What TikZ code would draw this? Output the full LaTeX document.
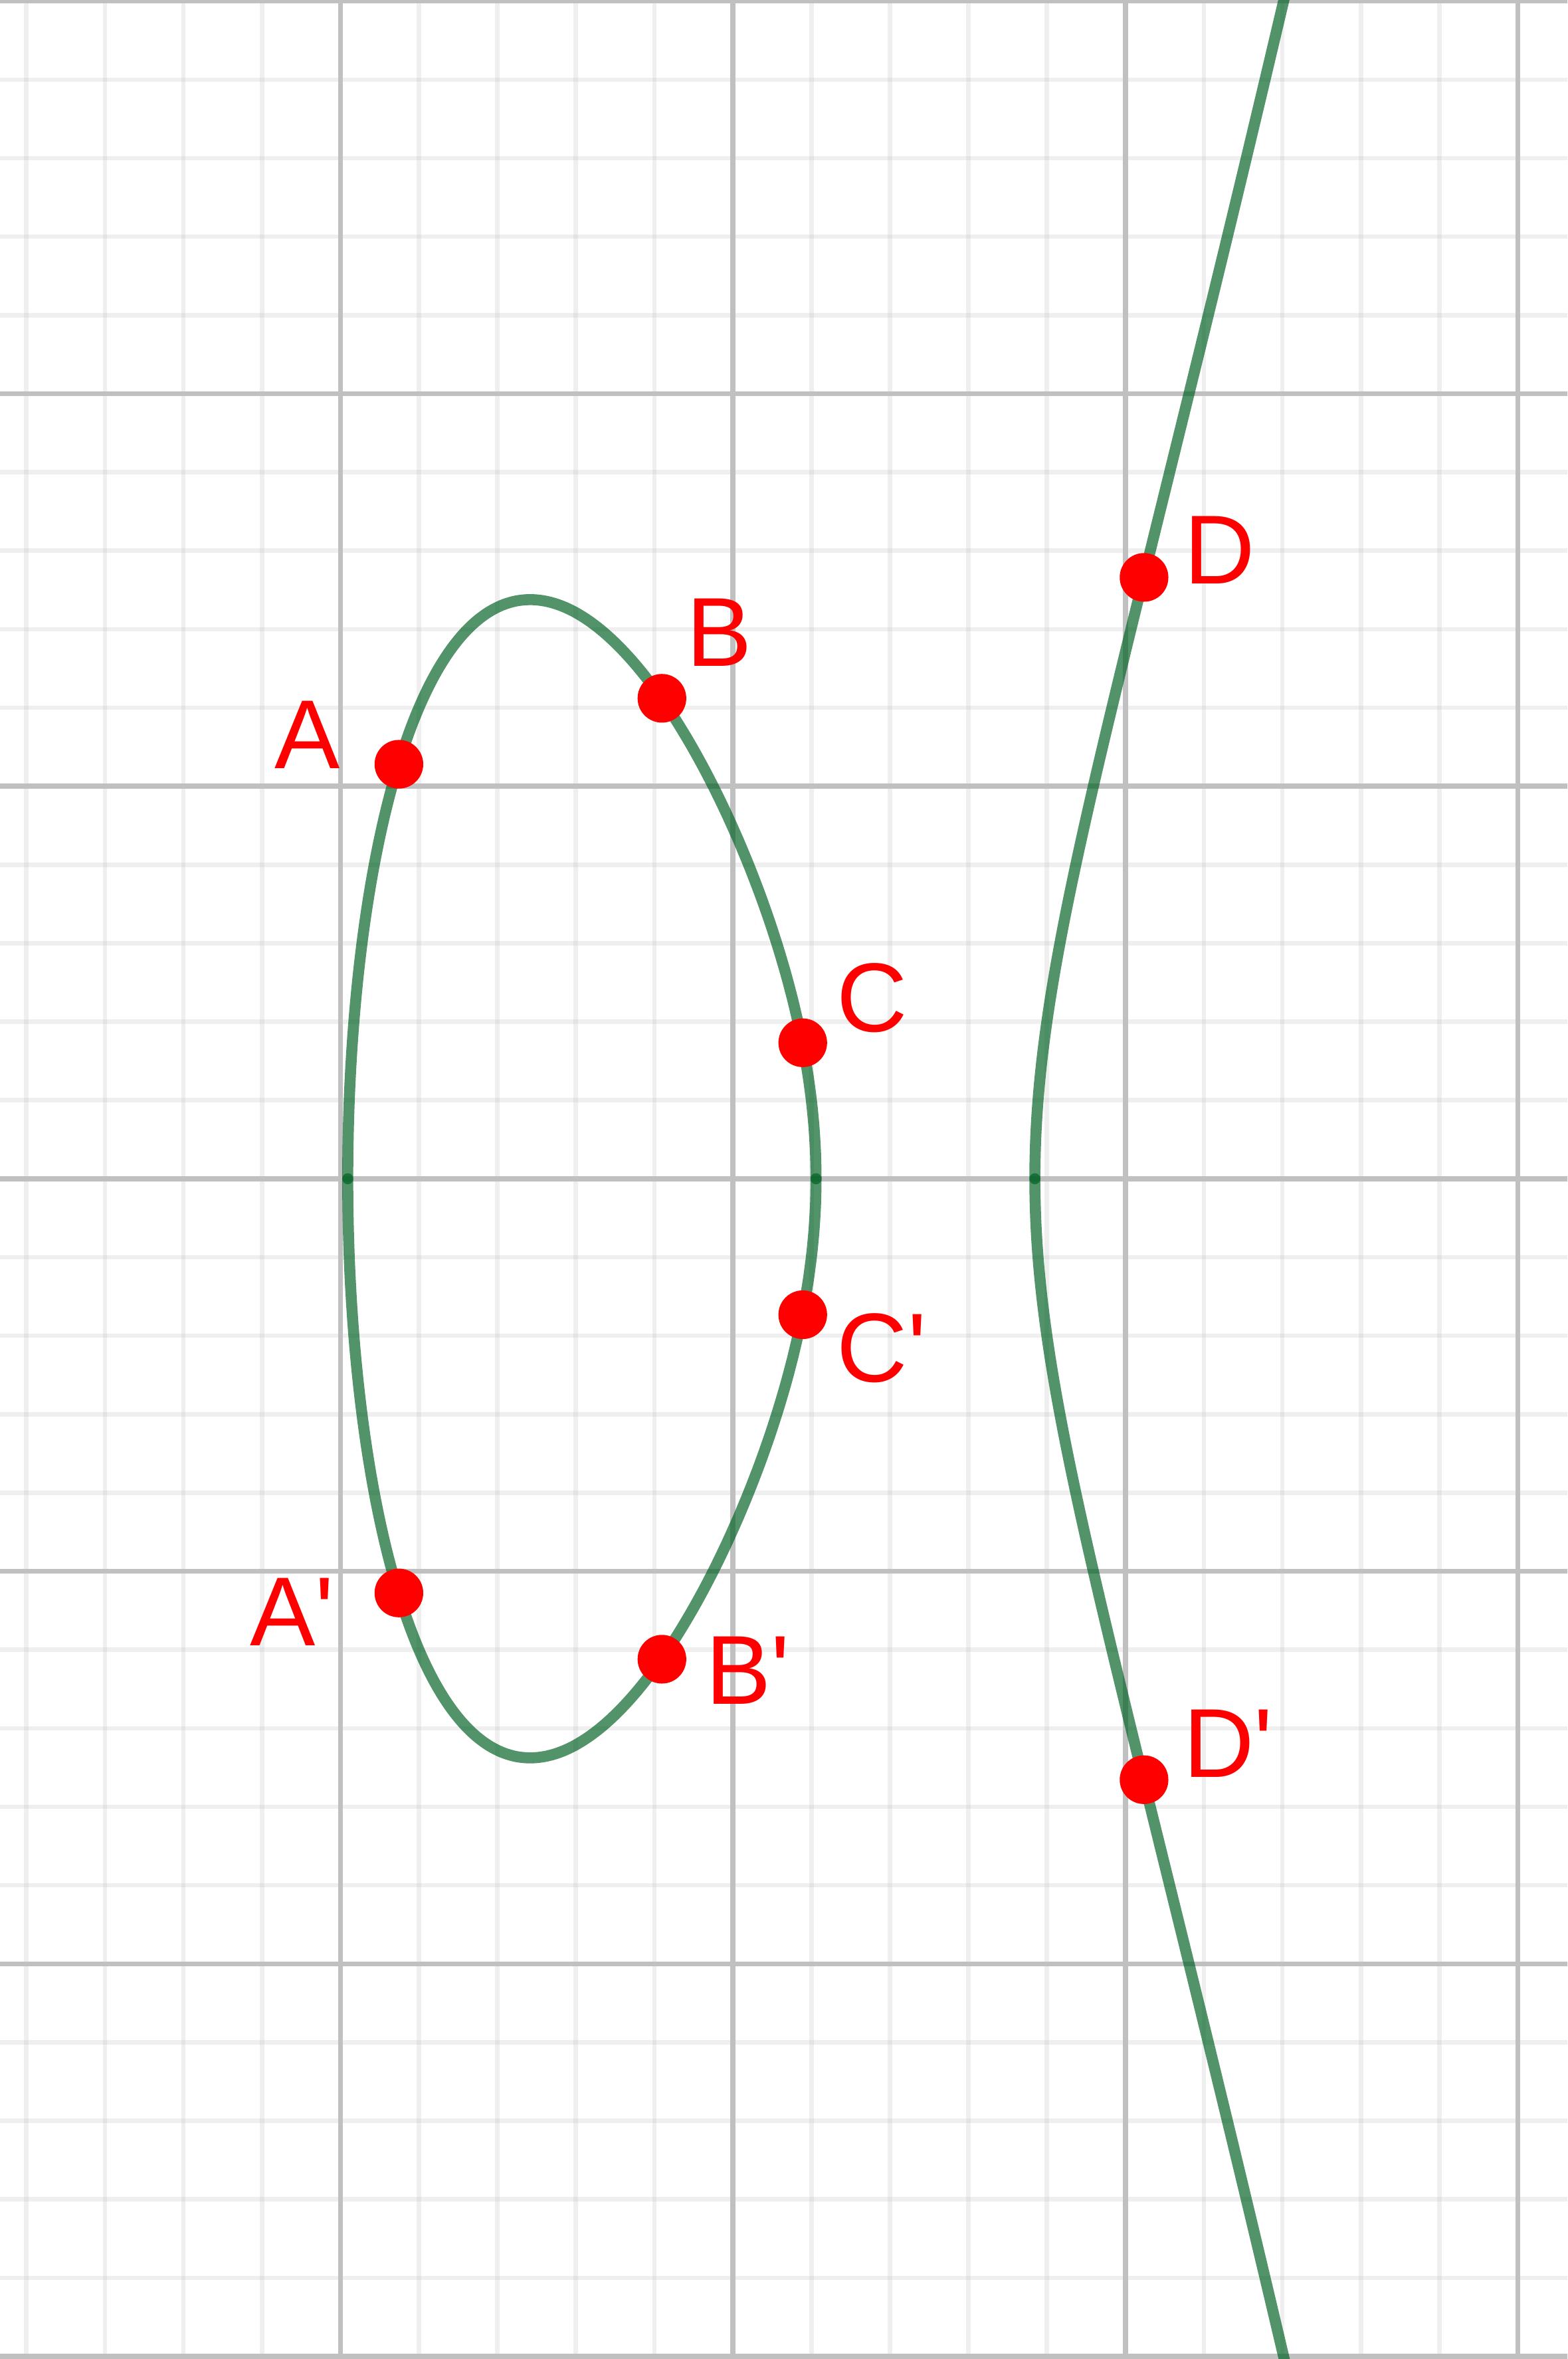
\documentclass[tikz,border=0pt]{standalone}
\usepackage{fontspec}
\newfontfamily\lblfont{Liberation Sans}
\definecolor{gridgray}{RGB}{192,192,192}
\definecolor{curvegreen}{RGB}{0,97,34}
\begin{document}
\begin{tikzpicture}[
  minorline/.style={draw=gridgray, draw opacity=0.25, line width=1.6pt},
  majorline/.style={draw=gridgray, line width=1.8pt},
  branch/.style={draw=curvegreen, draw opacity=0.68, line width=4pt, line cap=round, line join=round},
  curvept/.style={circle, fill=red, inner sep=0pt, minimum size=0.62cm},
  ptlabel/.style={anchor=base west, inner sep=0pt, text=red, font=\lblfont\fontsize{35.5}{40}\selectfont}
]
\clip (-9.337,-15.034) rectangle (10.632,15.015);
\fill[white] (-9.337,-15.034) rectangle (10.632,15.015);

%Grid: minor lines
\foreach \x in {-9,...,10} {\draw[minorline] (\x,-15.1) -- (\x,15.1);}
\foreach \y in {-15,...,15} {\draw[minorline] (-9.4,\y) -- (10.7,\y);}
%Grid: major lines
\foreach \x in {-5,0,5,10} {\draw[majorline] (\x,-15.1) -- (\x,15.1);}
\foreach \y in {-15,-10,...,15} {\draw[majorline] (-9.4,\y) -- (10.7,\y);}

%Curve: y^2 = x^3 - 20x + 20, roots
\def\ra{-4.90674}
\def\rb{1.05946}
\def\rc{3.84728}
%Curve Lines: oval, upper and lower half
\draw[branch] plot[domain=0:90, samples=140, variable=\t, smooth]
  ({\ra+(\rb-\ra)*sin(\t)*sin(\t)}, {(\rb-\ra)*sin(\t)*cos(\t)*sqrt(\rc-\ra-(\rb-\ra)*sin(\t)*sin(\t))});
\draw[branch] plot[domain=0:90, samples=140, variable=\t, smooth]
  ({\ra+(\rb-\ra)*sin(\t)*sin(\t)}, {-(\rb-\ra)*sin(\t)*cos(\t)*sqrt(\rc-\ra-(\rb-\ra)*sin(\t)*sin(\t))});
%Curve Lines: right branch, upper and lower half
\draw[branch] plot[domain=0:1.81, samples=120, variable=\s, smooth]
  ({\rc+\s*\s}, {\s*sqrt((\rc+\s*\s-\ra)*(\rc+\s*\s-\rb))});
\draw[branch] plot[domain=0:1.81, samples=120, variable=\s, smooth]
  ({\rc+\s*\s}, {-\s*sqrt((\rc+\s*\s-\ra)*(\rc+\s*\s-\rb))});

%Shape: Circle
\node[curvept] (A) at (-4.255,5.28) {};
\node[curvept] (B) at (-0.904,6.12) {};
\node[curvept] (C) at (0.89,1.732) {};
\node[curvept] (D) at (5.238,7.66) {};
\node[curvept] (A') at (-4.255,-5.276) {};
\node[curvept] (B') at (-0.904,-6.12) {};
\node[curvept] (C') at (0.89,-1.732) {};
\node[curvept] (D') at (5.238,-7.655) {};

% Text Node
\node[ptlabel] (lA) at (-5.846,5.224) {A};
\node[ptlabel] (lB) at (-0.596,6.528) {B};
\node[ptlabel] (lC) at (1.316,1.875) {C};
\node[ptlabel] (lD) at (5.742,7.581) {D};
\node[ptlabel] (lA') at (-6.156,-5.949) {A\textquotesingle};
\node[ptlabel] (lB') at (-0.351,-6.688) {B\textquotesingle};
\node[ptlabel] (lC') at (1.319,-2.591) {C\textquotesingle};
\node[ptlabel] (lD') at (5.733,-7.621) {D\textquotesingle};

\end{tikzpicture}
\end{document}
